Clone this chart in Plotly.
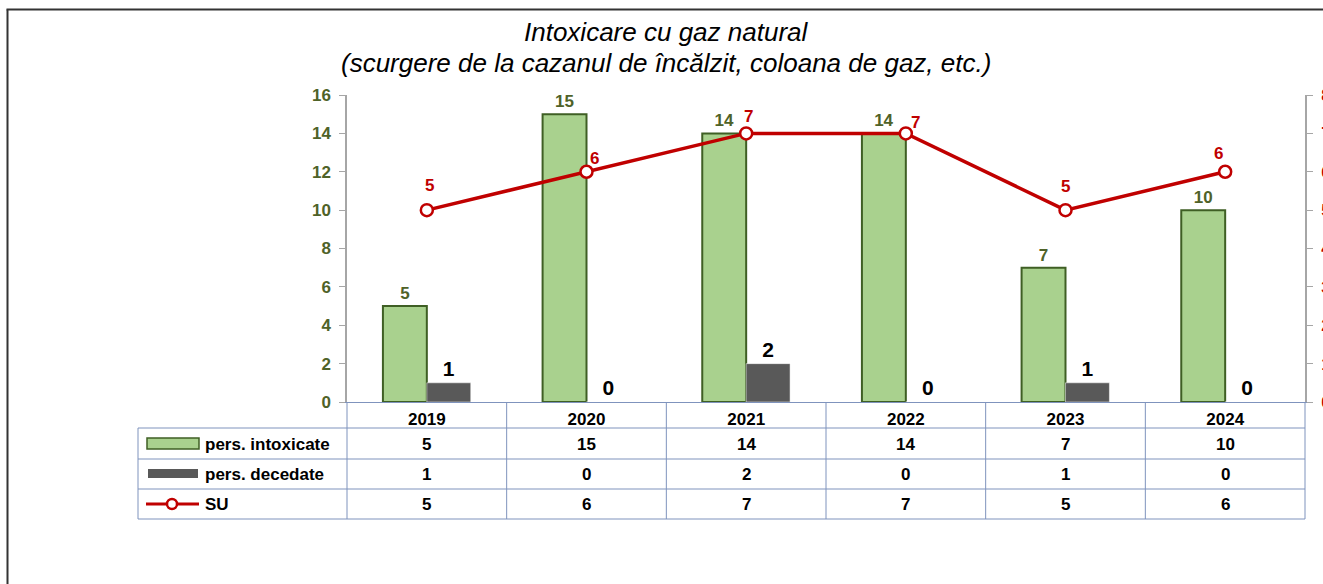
import plotly.graph_objects as go

# ---- data ----
years = ["2019", "2020", "2021", "2022", "2023", "2024"]
pers_intoxicate = [5, 15, 14, 14, 7, 10]
pers_decedate = [1, 0, 2, 0, 1, 0]
su = [5, 6, 7, 7, 5, 6]
series_names = ["pers. intoxicate", "pers. decedate", "SU"]
left_ticks = [0, 2, 4, 6, 8, 10, 12, 14, 16]
right_ticks = [0, 1, 2, 3, 4, 5, 6, 7, 8]
title_lines = ["Intoxicare cu gaz natural",
               "(scurgere de la cazanul de încălzit, coloana de gaz, etc.)"]

# ---- style ----
GREEN_FILL = "#a9d18e"
GREEN_LINE = "#3f5f24"
GREEN_TXT = "#4f6228"
DARK = "#595959"
RED = "#c00000"
TBL = "#7f93bd"
FONT = "Liberation Sans, Arial, sans-serif"

W, H = 1323, 584
L, R, T, B = 347, 1305, 95, 402  # plot area in page pixels


def px(p):
    return (p - L) / (R - L)


def py(p):
    return (B - p) / (B - T)


# label offsets (pixels) for SU data labels (style only)
su_label_offsets = [(3, 25), (8, 13), (2, 17), (10, 11), (0, 24), (-7, 18)]

fig = go.Figure()

fig.add_trace(go.Bar(
    x=years, y=pers_intoxicate, name=series_names[0],
    marker=dict(color=GREEN_FILL, line=dict(color=GREEN_LINE, width=2)),
    text=[str(v) for v in pers_intoxicate], textposition="outside",
    textfont=dict(family=FONT, size=17, color=GREEN_TXT, weight="bold"),
    cliponaxis=False, showlegend=False,
))
fig.add_trace(go.Bar(
    x=years, y=pers_decedate, name=series_names[1],
    marker=dict(color=DARK, line=dict(color="#ffffff", width=0.5)),
    text=[str(v) for v in pers_decedate], textposition="outside",
    textfont=dict(family=FONT, size=21, color="#000000", weight="bold"),
    cliponaxis=False, showlegend=False,
))
fig.add_trace(go.Scatter(
    x=years, y=su, name=series_names[2], yaxis="y2", mode="lines+markers",
    line=dict(color=RED, width=3.5),
    marker=dict(symbol="circle", size=12, color="#ffffff", line=dict(color=RED, width=2.5)),
    cliponaxis=False, showlegend=False,
))

annotations = []
# SU data labels
for i, v in enumerate(su):
    dx, dy = su_label_offsets[i]
    annotations.append(dict(
        x=i, y=v, xref="x", yref="y2", text=str(v), showarrow=False,
        xshift=dx, yshift=dy, xanchor="center", yanchor="middle",
        font=dict(family=FONT, size=17, color=RED, weight="bold"),
    ))

# title (two lines)
for line_text, yc in zip(title_lines, [32, 63]):
    annotations.append(dict(
        x=px(666), y=py(yc), xref="paper", yref="paper",
        xanchor="center", yanchor="middle",
        text="<i>" + line_text + "</i>", showarrow=False,
        font=dict(family=FONT, size=26, color="#000000"),
    ))

# data table
row_centers = [444, 474, 504]
rows = [pers_intoxicate, pers_decedate, su]
for r, vals in enumerate(rows):
    for i, v in enumerate(vals):
        annotations.append(dict(
            x=i, y=py(row_centers[r]), xref="x", yref="paper", text=str(v),
            xanchor="center", yanchor="middle", showarrow=False,
            font=dict(family=FONT, size=17, color="#000000", weight="bold"),
        ))
    annotations.append(dict(
        x=px(203), y=py(row_centers[r]), xref="paper", yref="paper",
        xanchor="left", yanchor="middle",
        text=series_names[r], showarrow=False,
        font=dict(family=FONT, size=17, color="#000000", weight="bold"),
    ))

shapes = []
line_style = dict(color=TBL, width=1)
for yy in [428, 459, 489, 519]:
    shapes.append(dict(type="line", xref="paper", yref="paper",
                       x0=px(138), x1=1, y0=py(yy), y1=py(yy), line=line_style))
shapes.append(dict(type="line", xref="paper", yref="paper",
                   x0=px(138), x1=px(138), y0=py(428), y1=py(519), line=line_style))
for k in range(len(years) + 1):
    shapes.append(dict(type="line", xref="paper", yref="paper",
                       x0=k / len(years), x1=k / len(years), y0=0, y1=py(519), line=line_style))

# legend keys inside table
shapes.append(dict(type="rect", xref="paper", yref="paper",
                   x0=px(147), x1=px(199), y0=py(449), y1=py(438),
                   fillcolor=GREEN_FILL, line=dict(color=GREEN_LINE, width=1.5)))
shapes.append(dict(type="rect", xref="paper", yref="paper",
                   x0=px(148), x1=px(198), y0=py(478), y1=py(469),
                   fillcolor=DARK, line=dict(width=0)))
shapes.append(dict(type="line", xref="paper", yref="paper",
                   x0=px(146), x1=px(199), y0=py(504), y1=py(504),
                   line=dict(color=RED, width=3)))
shapes.append(dict(type="circle", xref="paper", yref="paper",
                   x0=px(167), x1=px(177), y0=py(509), y1=py(499),
                   fillcolor="#ffffff", line=dict(color=RED, width=2.5)))

# outer frame
shapes.append(dict(type="line", xref="paper", yref="paper",
                   x0=px(6.5), x1=px(1340), y0=py(9.5), y1=py(9.5),
                   line=dict(color="#333333", width=2)))
shapes.append(dict(type="line", xref="paper", yref="paper",
                   x0=px(7.5), x1=px(7.5), y0=py(9.5), y1=py(600),
                   line=dict(color="#333333", width=2)))

fig.update_layout(
    width=W, height=H,
    margin=dict(l=L, r=W - R, t=T, b=H - B, pad=0, autoexpand=False),
    paper_bgcolor="#ffffff", plot_bgcolor="#ffffff",
    barmode="group", bargap=0.45, bargroupgap=0,
    showlegend=False,
    xaxis=dict(type="category", range=[-0.5, len(years) - 0.5], autorange=False,
               showgrid=False, zeroline=False,
               showline=True, linecolor=TBL, linewidth=1, ticks="",
               ticklabelstandoff=2,
               tickfont=dict(family=FONT, size=17, color="#000000", weight="bold")),
    yaxis=dict(range=[0, 16], tickvals=left_ticks, showgrid=False, zeroline=False,
               showline=True, linecolor="#a6a6a6", linewidth=1.5,
               ticks="outside", ticklen=6, tickcolor="#a6a6a6", ticklabelstandoff=5,
               tickfont=dict(family=FONT, size=17, color=GREEN_TXT, weight="bold")),
    yaxis2=dict(range=[0, 8], tickvals=right_ticks, overlaying="y", side="right",
                showgrid=False, zeroline=False, showline=True, linecolor="#a6a6a6",
                linewidth=1.5, ticks="outside", ticklen=6, tickcolor="#a6a6a6",
                ticklabelstandoff=5,
                tickfont=dict(family=FONT, size=17, color=RED, weight="bold")),
    annotations=annotations,
    shapes=shapes,
)

fig.write_html(
    "out.html",
    config={"displayModeBar": False},
    post_script="document.body.style.margin='0px';document.body.style.overflow='hidden';",
)
